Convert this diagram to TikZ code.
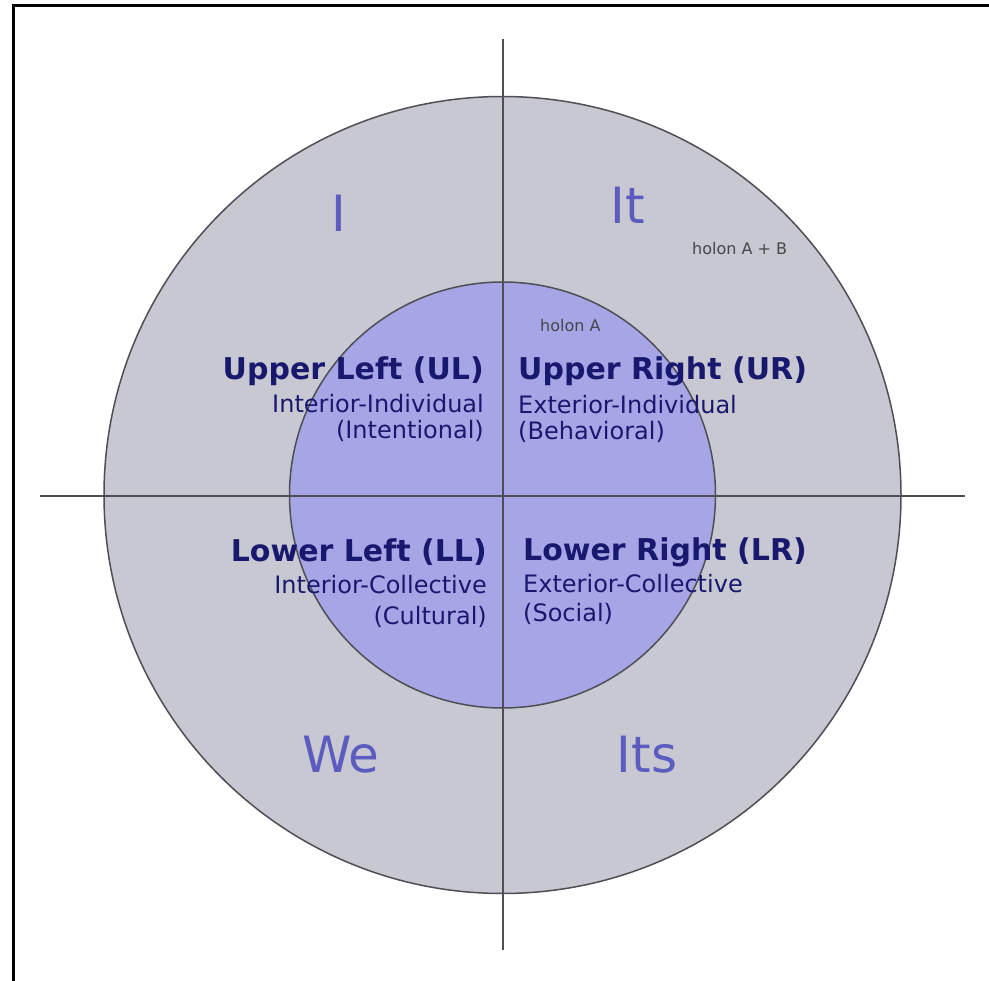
\documentclass[tikz,border=0pt]{standalone}
\usepackage{fontspec}
\setmainfont{DejaVu Sans}
\definecolor{ringgray}{RGB}{200,200,211}
\definecolor{corelav}{RGB}{166,166,230}
\definecolor{edgegray}{RGB}{78,78,84}
\definecolor{quadnavy}{RGB}{24,24,110}
\definecolor{pronblue}{RGB}{92,92,192}
\definecolor{holongray}{RGB}{70,70,76}

\begin{document}
\begin{tikzpicture}[x=1pt,y=-1pt,
  quadtitle/.style={font=\fontsize{30}{30}\selectfont\bfseries,text=quadnavy,inner sep=0pt},
  quadsub/.style={font=\fontsize{24}{24}\selectfont,text=quadnavy,inner sep=0pt},
  pronoun/.style={font=\fontsize{50}{50}\selectfont,text=pronblue,inner sep=0pt,anchor=base},
  holon/.style={font=\fontsize{16}{16}\selectfont,text=holongray,inner sep=0pt,anchor=base west},
  axis/.style={draw=edgegray,line width=2.5pt}]
  \useasboundingbox (0,0) rectangle (989,981);
  % frame
  \draw [black, line width=3pt] (13.5,981) -- (13.5,5.5) -- (989,5.5);
  % rings
  \node (outer) at (502.5,495)[circle,draw=edgegray,line width=1.5pt,fill=ringgray,minimum size=797pt,inner sep=0pt]{};
  \node (inner) at (502.5,495)[circle,draw=edgegray,line width=1.5pt,fill=corelav,minimum size=426pt,inner sep=0pt]{};
  % axes
  \coordinate (axtop) at (503,39);
  \coordinate (axbot) at (503,950);
  \coordinate (axleft) at (40,496);
  \coordinate (axright) at (965,496);
  \draw [axis] (axtop) -- (axbot);
  \draw [axis] (axleft) -- (axright);
  % pronouns
  \node (pI) at (339,232)[pronoun]{I};
  \node (pIt) at (628,224)[pronoun]{It};
  \node (pWe) at (341,772)[pronoun]{We};
  \node (pIts) at (647,772)[pronoun]{Its};
  % holons
  \node (holonAB) at (692,255)[holon]{holon A + B};
  \node (holonA) at (540,332)[holon]{holon A};
  % upper left
  \node (ulTitle) at (484,380)[quadtitle,anchor=base east]{Upper Left (UL)};
  \node (ulSubA) at (484,413)[quadsub,anchor=base east]{Interior-Individual};
  \node (ulSubB) at (484,439)[quadsub,anchor=base east]{(Intentional)};
  % upper right
  \node (urTitle) at (518,380)[quadtitle,anchor=base west]{Upper Right (UR)};
  \node (urSubA) at (518,414)[quadsub,anchor=base west]{Exterior-Individual};
  \node (urSubB) at (518,440)[quadsub,anchor=base west]{(Behavioral)};
  % lower left
  \node (llTitle) at (487,562)[quadtitle,anchor=base east]{Lower Left (LL)};
  \node (llSubA) at (487,594)[quadsub,anchor=base east]{Interior-Collective};
  \node (llSubB) at (487,624)[quadsub,anchor=base east]{(Cultural)};
  % lower right
  \node (lrTitle) at (523,561)[quadtitle,anchor=base west]{Lower Right (LR)};
  \node (lrSubA) at (523,593)[quadsub,anchor=base west]{Exterior-Collective};
  \node (lrSubB) at (523,622)[quadsub,anchor=base west]{(Social)};
\end{tikzpicture}
\end{document}
